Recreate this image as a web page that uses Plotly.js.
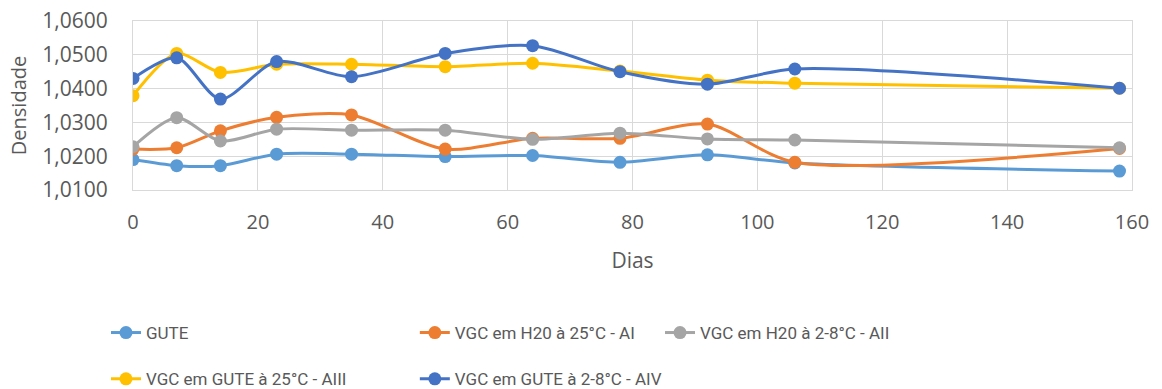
<!DOCTYPE html>
<html>
<head>
<meta charset="utf-8">
<script src="https://cdn.plot.ly/plotly-3.0.1.min.js"></script>
<style>html,body{margin:0;padding:0;background:#fff;}#chart{width:1162px;height:389px;}</style>
</head>
<body>
<div id="chart"></div>
<script>
const dias = [0, 7, 14, 23, 35, 50, 64, 78, 92, 106, 158];
const seriesNames = ["GUTE", "VGC em H20 à 25°C - AI", "VGC em H20 à 2-8°C - AII", "VGC em GUTE à 25°C - AIII", "VGC em GUTE à 2-8°C - AIV"];
const gute = [1.0190, 1.0172, 1.0172, 1.0206, 1.0206, 1.0199, 1.0202, 1.0182, 1.0204, 1.0180, 1.0156];
const ai   = [1.0221, 1.0225, 1.0275, 1.0315, 1.0322, 1.0221, 1.0253, 1.0253, 1.0295, 1.0182, 1.0223];
const aii  = [1.0228, 1.0314, 1.0245, 1.0280, 1.0277, 1.0277, 1.0250, 1.0268, 1.0251, 1.0248, 1.0225];
const aiii = [1.0379, 1.0504, 1.0448, 1.0472, 1.0472, 1.0465, 1.0475, 1.0452, 1.0425, 1.0416, 1.0401];
const aiv  = [1.0430, 1.0491, 1.0369, 1.0480, 1.0435, 1.0504, 1.0527, 1.0450, 1.0413, 1.0458, 1.0401];
const yTicks = [1.01, 1.02, 1.03, 1.04, 1.05, 1.06];
const xTicks = [0, 20, 40, 60, 80, 100, 120, 140, 160];

const colors = ["#5B9BD5", "#ED7D31", "#A5A5A5", "#FFC000", "#4472C4"];
const allY = [gute, ai, aii, aiii, aiv];
const legendIds = ["legend", "legend2", "legend3", "legend4", "legend5"];

const traces = allY.map((ys, i) => ({
  x: dias, y: ys, name: seriesNames[i], type: "scatter", mode: "lines+markers",
  line: {color: colors[i], width: 3, shape: "spline", smoothing: 0.8},
  marker: {color: colors[i], size: 13},
  legend: legendIds[i]
}));

const font = "Open Sans, Lato, sans-serif";
const legFont = {family: "Roboto, Open Sans, sans-serif", size: 17, color: "#595959"};
// legend slots in container coords: [x, y(middle)]
const legPos = [[0.0912, 0.144], [0.357, 0.144], [0.568, 0.144], [0.0912, 0.025], [0.357, 0.025]];

const layout = {
  width: 1162, height: 389,
  margin: {l: 133, r: 30, t: 21, b: 199, autoexpand: false},
  separators: ",.",
  paper_bgcolor: "#fff", plot_bgcolor: "#fff",
  font: {family: font, color: "#595959", size: 20},
  showlegend: true,
  xaxis: {
    range: [0, 160], tickvals: xTicks, ticktext: xTicks.map(String),
    showgrid: true, gridcolor: "#D9D9D9", gridwidth: 1,
    zeroline: false, showline: true, linecolor: "#D9D9D9", mirror: true,
    ticks: "", ticklabelstandoff: 14, automargin: false,
    tickfont: {size: 20, color: "#595959"},
    title: {text: "Dias", font: {size: 21, color: "#595959"}, standoff: 19}
  },
  yaxis: {
    range: [1.01, 1.06], tickvals: yTicks, tickformat: ".4f",
    showgrid: true, gridcolor: "#D9D9D9", gridwidth: 1,
    zeroline: false, showline: true, linecolor: "#D9D9D9", mirror: true,
    ticks: "", ticklabelstandoff: 20, automargin: false,
    tickfont: {size: 21, color: "#595959"},
    title: {text: "Densidade", font: {size: 20, color: "#595959"}, standoff: 10}
  }
};
legendIds.forEach((id, i) => {
  layout[id] = {
    orientation: "h", xref: "container", yref: "container",
    x: legPos[i][0], xanchor: "left", y: legPos[i][1], yanchor: "middle",
    font: legFont, bgcolor: "rgba(0,0,0,0)"
  };
});

Plotly.newPlot("chart", traces, layout, {displayModeBar: false, staticPlot: true});
</script>
</body>
</html>
